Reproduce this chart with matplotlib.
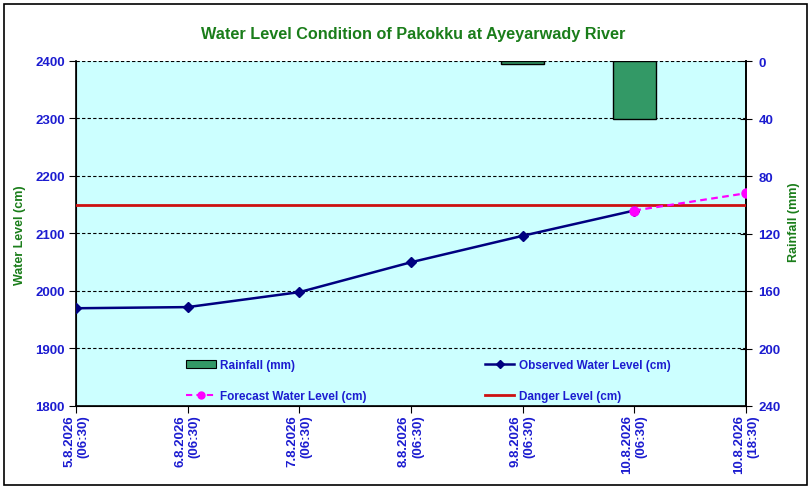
import matplotlib
matplotlib.use("Agg")
import matplotlib.pyplot as plt
from matplotlib.lines import Line2D
from matplotlib.patches import Patch, Rectangle

categories = ["5.8.2026\n(06:30)", "6.8.2026\n(06:30)", "7.8.2026\n(06:30)",
              "8.8.2026\n(06:30)", "9.8.2026\n(06:30)", "10.8.2026\n(06:30)",
              "10.8.2026\n(18:30)"]
observed = [1970, 1972, 1998, 2050, 2096, 2140]
forecast_idx = [5, 6]
forecast = [2140, 2170]
danger_level = 2150
rain_idx = [4, 5]
rainfall = [1.8, 40]
left_ticks = [1800, 1900, 2000, 2100, 2200, 2300, 2400]
right_ticks = [0, 40, 80, 120, 160, 200, 240]

FONT = "Liberation Sans"
BLUE = "#1c1cd0"
GREEN = "#1a7d1a"

W, H = 812, 489
fig = plt.figure(figsize=(W/100, H/100), dpi=100)
fig.patch.set_facecolor("white")
fig.add_artist(Rectangle((4/W, 3/H), (W-9)/W, (H-8)/H, transform=fig.transFigure,
                         fill=False, edgecolor="black", linewidth=1.2))

ax = fig.add_axes([76/W, (H-407)/H, 670/W, 345/H])
ax.set_facecolor("#ccffff")
x_all = list(range(len(categories)))
ax.set_xlim(0, len(categories) - 1)
ax.set_ylim(1800, 2400)
ax.set_yticks(left_ticks)
ax.grid(axis="y", color="black", linestyle=(0, (3, 2)), linewidth=0.8)
ax.set_axisbelow(True)
ax.spines["top"].set_visible(False)
for s in ["left", "bottom", "right"]:
    ax.spines[s].set_linewidth(1.2)

ax2 = ax.twinx()
ax2.set_ylim(240, 0)
ax2.set_yticks(right_ticks)
ax2.spines["top"].set_visible(False)
ax2.spines["right"].set_linewidth(1.2)
bars = ax2.bar(rain_idx, rainfall, width=0.39, bottom=0, color="#339966",
               edgecolor="black", linewidth=1.0, zorder=2)

ax3 = ax.twinx()
ax3.set_ylim(1800, 2400)
ax3.axis("off")
ax3.axhline(danger_level, color="#cc1111", linewidth=2, zorder=3)
ax3.plot(x_all[:len(observed)], observed, color="#000080", linewidth=1.8,
         marker="D", markersize=5.5, zorder=4)
ax3.plot(forecast_idx, forecast, color="#ff00ff", linewidth=1.6,
         linestyle=(0, (3, 2)), marker="o", markersize=6.5, zorder=5)

ax.set_xticks(x_all)
ax.set_xticklabels(categories, rotation=90, ha="center", va="top",
                   multialignment="right", fontfamily=FONT, fontweight="bold",
                   fontsize=9.5, color=BLUE)
ax.tick_params(axis="x", direction="out", length=5, pad=1)
ax.tick_params(axis="y", direction="out", length=5, pad=3)
for lab in ax.get_yticklabels():
    lab.set_fontfamily(FONT); lab.set_fontweight("bold"); lab.set_fontsize(9.5); lab.set_color(BLUE)
ax2.tick_params(axis="y", direction="inout", length=8, pad=5)
for lab in ax2.get_yticklabels():
    lab.set_fontfamily(FONT); lab.set_fontweight("bold"); lab.set_fontsize(9.5); lab.set_color(BLUE)

fig.text(20/W, 1 - 235/H, "Water Level (cm)", rotation=90, ha="center", va="center",
         fontfamily=FONT, fontweight="bold", fontsize=9, color=GREEN)
fig.text(794/W, 1 - 222/H, "Rainfall (mm)", rotation=90, ha="center", va="center",
         fontfamily=FONT, fontweight="bold", fontsize=9, color=GREEN)
fig.text(413/W, 1 - 34/H, "Water Level Condition of Pakokku at Ayeyarwady River",
         ha="center", va="center", fontfamily=FONT, fontweight="bold",
         fontsize=11.7, color=GREEN)

handles = [
    Patch(facecolor="#339966", edgecolor="black", linewidth=0.8),
    Line2D([], [], color="#ff00ff", linestyle=(0, (3, 2)), marker="o", markersize=5, linewidth=1.5),
    Line2D([], [], color="#000080", marker="D", markersize=4, linewidth=1.8),
    Line2D([], [], color="#cc1111", linewidth=2),
]
labels = ["Rainfall (mm)", "Forecast Water Level (cm)",
          "Observed Water Level (cm)", "Danger Level (cm)"]
leg = ax3.legend(handles, labels, ncol=2, frameon=False, loc="upper left",
                 bbox_to_anchor=((186 - 76) / 670, (407 - 360) / 345),
                 bbox_transform=ax.transAxes, columnspacing=10.0,
                 handlelength=2.5, handleheight=0.6, handletextpad=0.4,
                 labelspacing=1.6, borderpad=0, borderaxespad=0,
                 prop={"family": FONT, "weight": "bold", "size": 8.5})
for t in leg.get_texts():
    t.set_color(BLUE)

fig.savefig("out.png", dpi=100)
